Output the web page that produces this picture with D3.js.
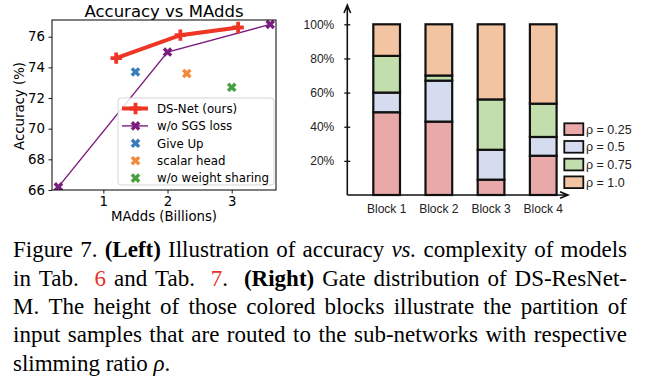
<!DOCTYPE html>
<html>
<head>
<meta charset="utf-8">
<script src="https://cdn.jsdelivr.net/npm/d3@7"></script>
<style>
  body { margin: 0; background: #fff; }
  svg { display: block; }
</style>
</head>
<body>
<svg id="fig" width="652" height="386"></svg>
<script>
// left panel: accuracy vs MAdds
const dsX = [1.2, 2.2, 3.1];
const dsY = [74.6, 76.1, 76.6];
const sgsX = [0.3, 2.0, 3.6];
const sgsY = [66.2, 75.0, 76.8];
const singleNames = ["Give Up", "scalar head", "w/o weight sharing"];
const singleX = [1.5, 2.3, 3.0];
const singleY = [73.7, 73.6, 72.7];
const accTicks = [66, 68, 70, 72, 74, 76];
const maddTicks = [1, 2, 3];

// right panel: gate distribution
const blocks = ["Block 1", "Block 2", "Block 3", "Block 4"];
const rhoLabels = ["ρ = 0.25", "ρ = 0.5", "ρ = 0.75", "ρ = 1.0"];
const rho025 = [48.5, 43, 9, 23];
const rho05 = [11.5, 24, 17.5, 11];
const rho075 = [21.5, 3, 29.5, 19.5];
const rho10 = [18.5, 30, 44, 46.5];
const pctTicks = [20, 40, 60, 80, 100];

const svg = d3.select("#fig");

// ---------- left ----------
const L = svg.append("g").attr("font-family", "DejaVu Sans").attr("fill", "#000");
const x = d3.scaleLinear().domain([0.2, 3.69]).range([52, 276]);
const y = d3.scaleLinear().domain([66, 77.09]).range([190, 20]);

const plusPath = d3.symbol(d3.symbolCross, 72)();
const xPath = d3.symbol(d3.symbolCross, 58)();
const dsColor = "#ee3526", sgsColor = "#7b1c7f";
const singleColors = ["#3b7dba", "#f38a3a", "#46a03f"];

L.append("defs").append("clipPath").attr("id", "axclip")
  .append("rect").attr("x", 52).attr("y", 20).attr("width", 224).attr("height", 170);

const plot = L.append("g").attr("clip-path", "url(#axclip)");

const line = d3.line().x(d => x(d[0])).y(d => y(d[1]));

plot.append("path").datum(d3.zip(sgsX, sgsY))
  .attr("d", line).attr("fill", "none").attr("stroke", sgsColor).attr("stroke-width", 1.4);
plot.selectAll(".sgs").data(d3.zip(sgsX, sgsY)).join("path")
  .attr("d", xPath).attr("fill", sgsColor)
  .attr("transform", d => `translate(${x(d[0])},${y(d[1])}) rotate(45)`);

plot.append("path").datum(d3.zip(dsX, dsY))
  .attr("d", line).attr("fill", "none").attr("stroke", dsColor).attr("stroke-width", 4);
plot.selectAll(".ds").data(d3.zip(dsX, dsY)).join("path")
  .attr("d", plusPath).attr("fill", dsColor)
  .attr("transform", d => `translate(${x(d[0])},${y(d[1])})`);

plot.selectAll(".single").data(singleX).join("path")
  .attr("d", xPath).attr("fill", (d, i) => singleColors[i])
  .attr("transform", (d, i) => `translate(${x(d)},${y(singleY[i])}) rotate(45)`);

// axes
const ax = L.append("g").attr("transform", "translate(52,0)")
  .call(d3.axisLeft(y).tickValues(accTicks).tickSize(3.5).tickPadding(3.5));
const bx = L.append("g").attr("transform", "translate(0,190)")
  .call(d3.axisBottom(x).tickValues(maddTicks).tickFormat(d3.format("d")).tickSize(3.5).tickPadding(3.5));
[ax, bx].forEach(g => {
  g.select(".domain").remove();
  g.selectAll("text").attr("font-size", 13.3).attr("font-family", "DejaVu Sans").attr("fill", "#000");
  g.selectAll("line").attr("stroke", "#000").attr("stroke-width", 0.9);
});
L.append("rect").attr("x", 52).attr("y", 20).attr("width", 224).attr("height", 170)
  .attr("fill", "none").attr("stroke", "#000").attr("stroke-width", 1);

L.append("text").attr("x", 164).attr("y", 16.5).attr("text-anchor", "middle")
  .attr("font-size", 16.5).text("Accuracy vs MAdds");
L.append("text").attr("x", 164).attr("y", 221).attr("text-anchor", "middle")
  .attr("font-size", 13.3).text("MAdds (Billions)");
L.append("text").attr("transform", "translate(24,106) rotate(-90)").attr("text-anchor", "middle")
  .attr("font-size", 13.3).text("Accuracy (%)");

// legend
const leg = L.append("g");
leg.append("rect").attr("x", 118).attr("y", 98).attr("width", 156).attr("height", 87).attr("rx", 3)
  .attr("fill", "#fff").attr("fill-opacity", 0.85).attr("stroke", "#d0d0d0").attr("stroke-width", 0.9);
const legItems = [
  { name: "DS-Net (ours)", color: dsColor, line: 4, mark: plusPath, rot: 0 },
  { name: "w/o SGS loss", color: sgsColor, line: 1.4, mark: xPath, rot: 45 },
  ...singleNames.map((n, i) => ({ name: n, color: singleColors[i], line: 0, mark: xPath, rot: 45 }))
];
legItems.forEach((it, i) => {
  const cy = 108.5 + i * 17.4;
  if (it.line) leg.append("line").attr("x1", 122).attr("x2", 148).attr("y1", cy).attr("y2", cy)
    .attr("stroke", it.color).attr("stroke-width", it.line);
  leg.append("path").attr("d", it.mark).attr("fill", it.color)
    .attr("transform", `translate(135.5,${cy}) rotate(${it.rot})`);
  leg.append("text").attr("x", 157).attr("y", cy).attr("dy", "0.36em")
    .attr("font-size", 11.8).text(it.name);
});

// ---------- right ----------
const R = svg.append("g").attr("font-family", "Liberation Sans, Arial, sans-serif");
const xb = d3.scaleBand().domain(blocks).range([347.2, 582.7]).paddingInner(0.4885).paddingOuter(0.5);
const yb = d3.scaleLinear().domain([0, 100]).range([195, 24.3]);
const rhoColors = ["#e9a9a8", "#d6dcef", "#c2deac", "#f2c4a2"];

const rows = blocks.map((b, i) => ({ block: b, [rhoLabels[0]]: rho025[i], [rhoLabels[1]]: rho05[i], [rhoLabels[2]]: rho075[i], [rhoLabels[3]]: rho10[i] }));
const series = d3.stack().keys(rhoLabels)(rows);

R.selectAll("g.layer").data(series).join("g").attr("class", "layer")
  .attr("fill", (d, i) => rhoColors[i])
  .selectAll("rect").data(d => d).join("rect")
  .attr("x", d => xb(d.data.block)).attr("width", xb.bandwidth())
  .attr("y", d => yb(d[1])).attr("height", d => yb(d[0]) - yb(d[1]))
  .attr("stroke", "#111").attr("stroke-width", 2.2);

const ya = R.append("g").attr("transform", "translate(347.3,0)")
  .call(d3.axisLeft(yb).tickValues(pctTicks).tickFormat(d => d + "%").tickSize(3).tickPadding(10));
ya.select(".domain").remove();
ya.selectAll("line").attr("x1", 3).attr("stroke", "#111").attr("stroke-width", 1.3);
ya.selectAll("text").attr("font-size", 12).attr("font-family", "Liberation Sans, Arial, sans-serif").attr("fill", "#222");

const xa = R.append("g").attr("transform", "translate(0,195)")
  .call(d3.axisBottom(xb).tickSize(0).tickPadding(9));
xa.select(".domain").remove();
xa.selectAll("text").attr("font-size", 12).attr("font-family", "Liberation Sans, Arial, sans-serif").attr("fill", "#222");

// arrow axes
R.append("path").attr("d", "M347.3,195V5M344,13L347.3,5L350.6,13").attr("fill", "none")
  .attr("stroke", "#111").attr("stroke-width", 1.6);
R.append("path").attr("d", "M347.3,195H568M560,191.7L568,195L560,198.3").attr("fill", "none")
  .attr("stroke", "#111").attr("stroke-width", 1.6);

// legend
rhoLabels.forEach((lab, i) => {
  const top = 123.3 + i * 17.7;
  R.append("rect").attr("x", 564.3).attr("y", top).attr("width", 19).attr("height", 11.7)
    .attr("fill", rhoColors[i]).attr("stroke", "#111").attr("stroke-width", 1.8);
  R.append("text").attr("x", 586).attr("y", top + 5.9).attr("dy", "0.36em")
    .attr("font-size", 12.5).attr("fill", "#222").text(lab);
});

// ---------- caption ----------
const captionLines = [
  [["Figure 7. ", ""], ["(Left)", "b"], [" Illustration of accuracy ", ""], ["vs.", "i"], [" complexity of models", ""]],
  [["in Tab.  ", ""], ["6", "r"], [" and Tab.  ", ""], ["7", "r"], [".  ", ""], ["(Right)", "b"], [" Gate distribution of DS-ResNet-", ""]],
  [["M. The height of those colored blocks illustrate the partition of", ""]],
  [["input samples that are routed to the sub-networks with respective", ""]],
  [["slimming ratio ", ""], ["ρ", "i"], [".", ""]]
];
const capFont = 23, capLeft = 13, capRight = 627, capTop = 257.3, capStep = 28.3;
const C = svg.append("g").attr("font-family", "Liberation Serif, Times New Roman, serif")
  .attr("font-size", capFont).attr("fill", "#000");

captionLines.forEach((segs, li) => {
  // split into words, remembering how many spaces precede each
  const words = [];
  let cur = null, gap = 0;
  segs.forEach(([txt, st]) => {
    txt.split(/( +)/).forEach(part => {
      if (part === "") return;
      if (/^ +$/.test(part)) { gap = part.length; cur = null; return; }
      if (!cur) { cur = { pieces: [], gap: words.length ? gap : 0 }; words.push(cur); gap = 0; }
      cur.pieces.push([part, st]);
    });
  });
  const by = capTop + li * capStep;
  const els = words.map(w => {
    const t = C.append("text").attr("y", by);
    w.pieces.forEach(([p, st]) => {
      const ts = t.append("tspan").text(p);
      if (st === "b") ts.attr("font-weight", "bold");
      if (st === "i") ts.attr("font-style", "italic");
      if (st === "r") ts.attr("fill", "#e8302a");
    });
    w.width = t.node().getComputedTextLength();
    return t;
  });
  const total = d3.sum(words, w => w.width);
  const weights = d3.sum(words, w => w.gap);
  const last = li === captionLines.length - 1;
  const unit = last ? capFont * 0.25 : (capRight - capLeft - total) / weights;
  let cx = capLeft;
  words.forEach((w, i) => {
    cx += w.gap * unit;
    els[i].attr("x", cx);
    cx += w.width;
  });
});
</script>
</body>
</html>
